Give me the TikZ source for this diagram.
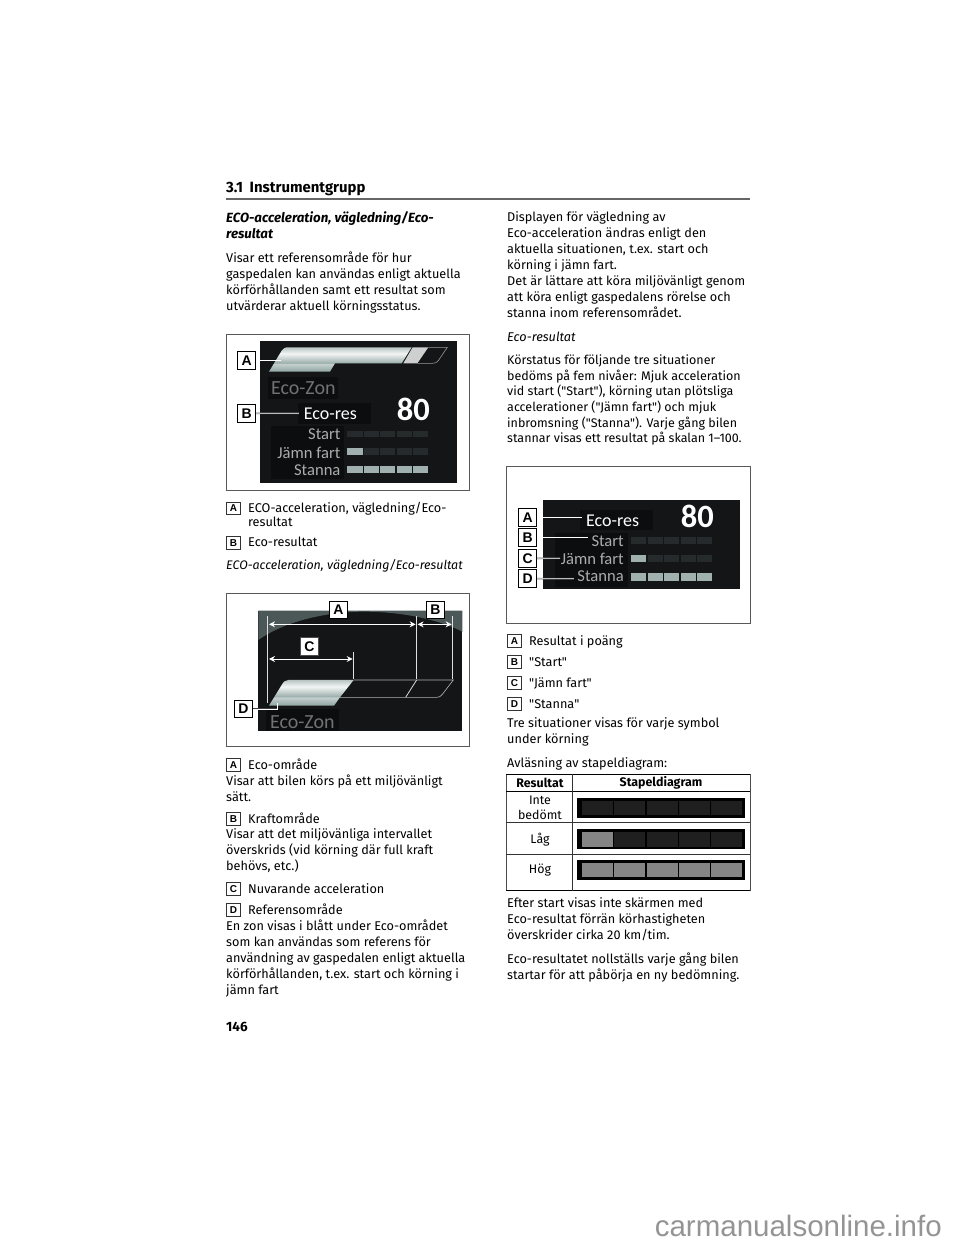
\documentclass[tikz,border=0pt]{standalone}
\usepackage{fontspec}
\setmainfont{Fira Sans}[Ligatures=TeXOff]
\newfontfamily\keyfont{Liberation Sans}
\newfontfamily\dashfont{Carlito}
\usetikzlibrary{arrows.meta, positioning}
\definecolor{paneldark}{HTML}{131516}
\definecolor{patchdark}{HTML}{0C0D0E}
\definecolor{cellon}{HTML}{9FB0AE}
\definecolor{celloff}{HTML}{252B2C}
\definecolor{arcgrey}{HTML}{4B5857}
\definecolor{zongrey}{HTML}{6F7473}
\definecolor{labelgrey}{HTML}{A9ADAC}
\definecolor{barlow}{HTML}{8FA5A2}
\definecolor{barbreak}{HTML}{C5D0CE}
\definecolor{barsplit}{HTML}{9DB0AD}
\definecolor{barwhite}{HTML}{F2F5F4}
\definecolor{bartop}{HTML}{B8C6C3}
\pgfdeclareverticalshading{ecobar}{100bp}{color(0bp)=(barlow); color(25bp)=(barlow); color(41bp)=(barbreak); color(43bp)=(barsplit); color(62bp)=(barwhite); color(75bp)=(bartop); color(100bp)=(bartop)}
\newcommand{\bodyfont}{\fontsize{12.7}{16}\selectfont}
\tikzstyle{body} = [anchor=north west, inner sep=0pt, yshift=-1.5pt, align=left, font=\bodyfont, execute at begin node=\strut]
\tikzstyle{listkey} = [draw=black!80, line width=1pt, minimum width=13.5pt, minimum height=12.5pt, inner sep=0pt, font=\keyfont\bfseries\fontsize{10}{11}\selectfont]
\tikzstyle{panelkey} = [draw=black, fill=white, line width=1pt, minimum width=18pt, minimum height=17.5pt, inner sep=0pt, font=\keyfont\bfseries\fontsize{14}{15}\selectfont]
\tikzstyle{frame} = [draw=black!65, line width=0.8pt]
\tikzstyle{callout} = [draw=black!75, double=white, double distance=0.7pt, line width=0.4pt]
\tikzstyle{dimline} = [draw=white, line width=1pt, <->, >={Stealth[length=6pt, width=6pt]}]
\tikzstyle{dimpost} = [draw=black!12, line width=1.4pt]
\tikzstyle{zonlabel} = [inner sep=0pt, text=zongrey, font=\dashfont\fontsize{20}{22}\selectfont]
\tikzstyle{reslabel} = [inner sep=0pt, text=white, font=\dashfont\fontsize{18}{20}\selectfont]
\tikzstyle{scorelabel} = [inner sep=0pt, text=white, font=\dashfont\bfseries\fontsize{32.5}{34}\selectfont]
\tikzstyle{rowlabel} = [inner sep=0pt, anchor=east, text=labelgrey, font=\dashfont\fontsize{16.6}{18}\selectfont]
\tikzstyle{tablecell} = [inner sep=0pt, align=center, font=\fontsize{12.4}{15}\selectfont]
\tikzstyle{tablehead} = [inner sep=0pt, font=\bfseries\fontsize{12.4}{15}\selectfont]
\begin{document}
\begin{tikzpicture}[x=1pt, y=-1pt]
    \useasboundingbox (0,0) rectangle (960,1242);

    % Page head
    \node[inner sep=0pt, anchor=west, font=\bfseries\fontsize{14.9}{17}\selectfont] (head) at (226,189) {3.1\hspace{0.45em}Instrumentgrupp};
    \draw[draw=black!60, line width=1.1pt] (226,199) -- (750,199);

    % Left column, first part
    \node[body, font=\bfseries\itshape\fontsize{13.3}{16}\selectfont] (title) at (226,210) {ECO-acceleration, vägledning/Eco-\\resultat};
    \node[body] (intro) at (226,250) {Visar ett referensområde för hur\\gaspedalen kan användas enligt aktuella\\körförhållanden samt ett resultat som\\utvärderar aktuell körningsstatus.};

    % Panel 1
    \begin{scope}[shift={(220,330)}, scale=0.3333]
        \draw[frame] (18,12) rectangle (748,482);
        \fill[paneldark] (121,32) rectangle (712,458);
        \shade[shading=ecobar] (200,52) -- (575,52) -- (545,100) -- (345,100) -- (330,125) -- (147,125) -- (185,62) .. controls (190,55) and (195,52) .. (200,52) -- cycle;
        \fill[barwhite!85!black] (578,52) -- (625,52) -- (592,100) -- (550,100) -- cycle;
        \draw[draw=black!40, line width=0.6pt] (625,52) -- (682,52) -- (655,92) .. controls (650,99) and (645,100) .. (635,100) -- (592,100);
        \fill[patchdark] (143,140) rectangle (355,206);
        \fill[patchdark] (233,220) rectangle (452,282);
        \fill[patchdark] (152,288) rectangle (372,446);
        \node[zonlabel] (zon1) at (250,175) {Eco-Zon};
        \node[reslabel] (res1) at (331,252) {Eco-res};
        \node[scorelabel] (score1) at (580,238) {80};
        \node[rowlabel] (start1) at (362,314) {Start};
        \node[rowlabel] (jamn1) at (362,368) {Jämn fart};
        \node[rowlabel] (stanna1) at (362,421) {Stanna};
        \foreach \x in {382,431,480,530,579} {
            \fill[celloff] (\x,302) rectangle ++(46,20);
            \fill[celloff] (\x,355) rectangle ++(46,20);
            \fill[cellon] (\x,408) rectangle ++(46,21);
        }
        \fill[cellon] (382,355) rectangle ++(46,20);
        \node[panelkey] (keyA1) at (80,92) {A};
        \node[panelkey] (keyB1) at (80,250) {B};
        \coordinate (endA1) at (182,92);
        \coordinate (endB1) at (237,250);
        \draw[callout] (keyA1) -- (endA1);
        \draw[callout] (keyB1) -- (endB1);
    \end{scope}

    % Keys below panel 1
    \node[listkey] (listA1) at (233.5,508.5) {A};
    \node[body, font=\fontsize{12.7}{14}\selectfont, anchor=west] (itemA1) at (248,515) {ECO-acceleration, vägledning/Eco-\\resultat};
    \node[listkey] (listB1) at (233.5,543) {B};
    \node[body] (itemB1) at (248,534) {Eco-resultat};
    \node[body, font=\itshape\fontsize{12.4}{16}\selectfont] (sub1) at (226,557) {ECO-acceleration, vägledning/Eco-resultat};

    % Panel 2
    \begin{scope}[shift={(220,590)}, scale=0.3333]
        \draw[frame] (18,10) rectangle (748,470);
        \fill[paneldark] (115,62) rectangle (727,423);
        \fill[arcgrey] (115,62) -- (115,150) .. controls (200,90) and (330,65) .. (430,65) .. controls (550,65) and (660,90) .. (727,125) -- (727,62) -- cycle;
        \shade[shading=ecobar] (205,270) -- (401,270) -- (360,322) -- (342,347) -- (147,347) -- (185,285) .. controls (190,275) and (197,270) .. (205,270) -- cycle;
        \draw[draw=black!30, line width=0.6pt] (401,270) -- (700,270) -- (668,312) .. controls (662,320) and (658,322) .. (650,322) -- (360,322);
        \draw[draw=black!15, line width=0.8pt] (590,270) -- (557,322);
        \fill[patchdark] (137,357) rectangle (357,423);
        \node[zonlabel] (zon2) at (247,395) {Eco-Zon};
        \coordinate (postA) at (143,78);
        \coordinate (postAend) at (143,340);
        \coordinate (postB) at (590,78);
        \coordinate (postBend) at (590,268);
        \coordinate (postC) at (698,78);
        \coordinate (postCend) at (698,268);
        \coordinate (postD) at (401,185);
        \coordinate (postDend) at (401,268);
        \draw[dimpost] (postA) -- (postAend);
        \draw[dimpost] (postB) -- (postBend);
        \draw[dimpost] (postC) -- (postCend);
        \draw[dimpost] (postD) -- (postDend);
        \coordinate (dimAl) at (147,103);
        \coordinate (dimAr) at (587,103);
        \coordinate (dimBl) at (593,103);
        \coordinate (dimBr) at (695,103);
        \coordinate (dimCl) at (147,207);
        \coordinate (dimCr) at (398,207);
        \draw[dimline] (dimAl) -- (dimAr);
        \draw[dimline] (dimBl) -- (dimBr);
        \draw[dimline] (dimCl) -- (dimCr);
        \node[panelkey] (keyA2) at (355,60) {A};
        \node[panelkey] (keyB2) at (646,60) {B};
        \node[panelkey, draw=black!70] (keyC2) at (268,170) {C};
        \node[panelkey] (keyD2) at (70,357) {D};
        \coordinate (endD2) at (172,338);
        \draw[callout] (keyD2) -| (endD2);
    \end{scope}

    % Keys below panel 2
    \node[listkey] (listA2) at (233.5,765) {A};
    \node[body] (itemA2) at (248,757) {Eco-område};
    \node[body] (textA2) at (226,773) {Visar att bilen körs på ett miljövänligt\\sätt.};
    \node[listkey] (listB2) at (233.5,819) {B};
    \node[body] (itemB2) at (248,811) {Kraftområde};
    \node[body] (textB2) at (226,827) {Visar att det miljövänliga intervallet\\överskrids (vid körning där full kraft\\behövs, etc.)};
    \node[listkey] (listC2) at (233.5,889) {C};
    \node[body] (itemC2) at (248,881) {Nuvarande acceleration};
    \node[listkey] (listD2) at (233.5,910) {D};
    \node[body] (itemD2) at (248,902) {Referensområde};
    \node[body] (textD2) at (226,918) {En zon visas i blått under Eco-området\\som kan användas som referens för\\användning av gaspedalen enligt aktuella\\körförhållanden, t.ex. start och körning i\\jämn fart};

    % Right column, first part
    \node[body] (display) at (507,210) {Displayen för vägledning av\\Eco-acceleration ändras enligt den\\aktuella situationen, t.ex. start och\\körning i jämn fart.\\Det är lättare att köra miljövänligt genom\\att köra enligt gaspedalens rörelse och\\stanna inom referensområdet.};
    \node[body, font=\itshape\bodyfont] (sub2) at (507,329) {Eco-resultat};
    \node[body, font=\fontsize{12.5}{15.7}\selectfont] (status) at (507,353) {Körstatus för följande tre situationer\\bedöms på fem nivåer: Mjuk acceleration\\vid start ("Start"), körning utan plötsliga\\accelerationer ("Jämn fart") och mjuk\\inbromsning ("Stanna"). Varje gång bilen\\stannar visas ett resultat på skalan 1–100.};

    % Panel 3
    \begin{scope}[shift={(500,465)}, scale=0.3333]
        \draw[frame] (20,5) rectangle (750,475);
        \fill[paneldark] (130,105) rectangle (720,373);
        \fill[patchdark] (240,135) rectangle (460,195);
        \fill[patchdark] (165,203) rectangle (385,365);
        \node[reslabel] (res3) at (338,167) {Eco-res};
        \node[scorelabel] (score3) at (592,155) {80};
        \node[rowlabel] (start3) at (372,228) {Start};
        \node[rowlabel] (jamn3) at (372,282) {Jämn fart};
        \node[rowlabel] (stanna3) at (372,335) {Stanna};
        \foreach \x in {393,443,492,542,591} {
            \fill[celloff] (\x,217) rectangle ++(45,20);
            \fill[celloff] (\x,270) rectangle ++(45,21);
            \fill[cellon] (\x,325) rectangle ++(45,22);
        }
        \fill[cellon] (393,270) rectangle ++(45,21);
        \node[panelkey] (keyA3) at (83,158) {A};
        \node[panelkey] (keyB3) at (83,218) {B};
        \node[panelkey] (keyC3) at (83,280) {C};
        \node[panelkey] (keyD3) at (83,341) {D};
        \coordinate (endA3) at (245,158);
        \coordinate (endB3) at (265,218);
        \coordinate (endC3) at (180,280);
        \coordinate (endD3) at (222,341);
        \draw[callout] (keyA3) -- (endA3);
        \draw[callout] (keyB3) -- (endB3);
        \draw[callout] (keyC3) -- (endC3);
        \draw[callout] (keyD3) -- (endD3);
    \end{scope}

    % Keys below panel 3
    \node[listkey] (listA3) at (514.5,641) {A};
    \node[body] (itemA3) at (529,633) {Resultat i poäng};
    \node[listkey] (listB3) at (514.5,662) {B};
    \node[body] (itemB3) at (529,654) {"Start"};
    \node[listkey] (listC3) at (514.5,683) {C};
    \node[body] (itemC3) at (529,675) {"Jämn fart"};
    \node[listkey] (listD3) at (514.5,704) {D};
    \node[body] (itemD3) at (529,696) {"Stanna"};
    \node[body] (three) at (507,716) {Tre situationer visas för varje symbol\\under körning};
    \node[body] (reading) at (507,755) {Avläsning av stapeldiagram:};

    % Table
    \begin{scope}[shift={(500,770)}, scale=0.3333]
        \draw[draw=black!70, line width=0.5pt] (18,12) rectangle (750,362);
        \draw[draw=black, line width=0.8pt] (18,12) -- (750,12);
        \draw[draw=black, line width=1pt] (18,65) -- (750,65);
        \draw[draw=black!80, line width=0.7pt] (18,158) -- (750,158);
        \draw[draw=black!80, line width=0.7pt] (18,253) -- (750,253);
        \draw[draw=black, line width=0.8pt] (18,362) -- (750,362);
        \draw[draw=black!80, line width=0.7pt] (218,12) -- (218,362);
        \node[tablehead] (colresult) at (120,40) {Resultat};
        \node[tablehead] (colbars) at (483,40) {Stapeldiagram};
        \node[tablecell] (rownone) at (120,113) {Inte\\bedömt};
        \node[tablecell] (rowlow) at (120,208) {Låg};
        \node[tablecell] (rowhigh) at (120,300) {Hög};
        \fill[black] (232,83) rectangle (736,145);
        \fill[black] (232,178) rectangle (736,238);
        \fill[black] (232,270) rectangle (736,330);
        \foreach \x in {246,343,440,536,632} {
            \fill[black!88] (\x,92) rectangle ++(93,43);
            \fill[black!88] (\x,185) rectangle ++(93,45);
            \fill[black!48] (\x,278) rectangle ++(93,44);
        }
        \fill[black!48] (246,185) rectangle ++(93,45);
    \end{scope}

    % Right column, last part
    \node[body] (after) at (507,896) {Efter start visas inte skärmen med\\Eco-resultat förrän körhastigheten\\överskrider cirka 20 km/tim.};
    \node[body] (reset) at (507,951) {Eco-resultatet nollställs varje gång bilen\\startar för att påbörja en ny bedömning.};

    % Page number and site name
    \node[inner sep=0pt, anchor=west, font=\bfseries\fontsize{13.5}{15}\selectfont] (page) at (226,1027) {146};
    \node[inner sep=0pt, anchor=east, text=black!42, font=\keyfont\fontsize{29.5}{31}\selectfont] (site) at (942,1226) {carmanualsonline.info};
\end{tikzpicture}
\end{document}
